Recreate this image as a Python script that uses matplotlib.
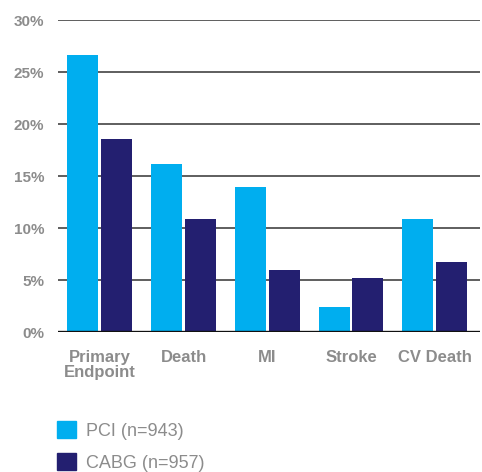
import numpy as np
import matplotlib.pyplot as plt
from matplotlib.patches import Patch

categories = ["Primary\nEndpoint", "Death", "MI", "Stroke", "CV Death"]
pci = [26.6, 16.2, 13.9, 2.4, 10.9]
cabg = [18.6, 10.9, 6.0, 5.2, 6.7]
series_labels = ["PCI (n=943)", "CABG (n=957)"]
yticks = [0, 5, 10, 15, 20, 25, 30]

pci_color = "#00aeef"
cabg_color = "#231f70"
text_gray = "#8c8c8c"

plt.rcParams["font.family"] = ["Liberation Sans", "DejaVu Sans"]

fig = plt.figure(figsize=(4.82, 4.72), dpi=100)
ax = fig.add_axes([0.1203, 0.2966, 0.876, 0.661])

x = np.arange(len(categories))
width = 0.37

for y in yticks[1:]:
    ax.axhline(y, color="#333333", lw=1.1, zorder=1)
ax.axhline(0, color="#111111", lw=2.4, zorder=3)

ax.bar(x - 0.205, pci, width, color=pci_color, zorder=2, label=series_labels[0])
ax.bar(x + 0.2, cabg, width, color=cabg_color, zorder=2, label=series_labels[1])

ax.set_xlim(-0.5, 4.54)
ax.set_ylim(0, 30)
ax.set_yticks(yticks)
ax.set_yticklabels([f"{v}%" for v in yticks])
ax.set_xticks(x)
ax.set_xticklabels(categories, linespacing=1.0)

ax.tick_params(axis="y", length=0, pad=10, labelsize=11, labelcolor=text_gray)
ax.tick_params(axis="x", length=0, pad=13, labelsize=12, labelcolor=text_gray)
for lbl in ax.get_xticklabels() + ax.get_yticklabels():
    lbl.set_fontweight("bold")

for s in ax.spines.values():
    s.set_visible(False)

handles = [Patch(color=pci_color), Patch(color=cabg_color)]
leg = fig.legend(handles, series_labels, loc="upper left",
                 bbox_to_anchor=(0.1, 0.127), bbox_transform=fig.transFigure,
                 frameon=False, fontsize=13, handlelength=1.05, handleheight=1.05,
                 handletextpad=0.55, labelspacing=0.75, borderpad=0)
for t in leg.get_texts():
    t.set_color(text_gray)

fig.savefig("out.png", dpi=100)
